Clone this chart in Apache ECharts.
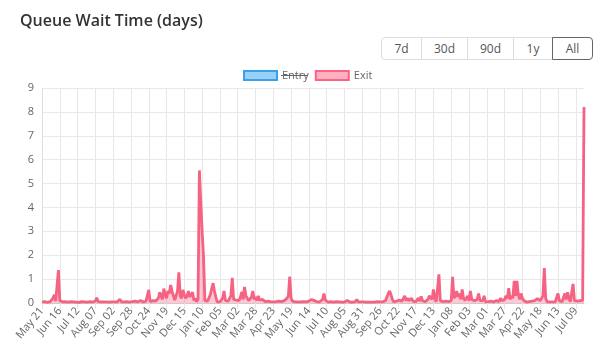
<!DOCTYPE html>
<html>
<head>
<meta charset="utf-8">
<script src="https://cdn.jsdelivr.net/npm/echarts@6/dist/echarts.min.js"></script>
<style>
    body { margin: 0; background: #fff; }
    #main { position: absolute; left: 0; top: 0; width: 600px; height: 352px; }
    .btns { position: absolute; left: 381px; top: 37px; display: flex; z-index: 2; font-family: 'Open Sans', sans-serif; }
    .btns div { height: 21px; line-height: 21px; text-align: center; font-size: 12px; color: #555;
        border: 1px solid #ddd; margin-left: -1px; background: #fff; }
    .btns div:first-child { border-radius: 4px 0 0 4px; margin-left: 0; }
    .btns div:last-child { border-radius: 0 4px 4px 0; border-color: #666; position: relative; }
</style>
</head>
<body>
<div id="main"></div>
<div class="btns">
    <div style="width:39px">7d</div>
    <div style="width:45px">30d</div>
    <div style="width:45px">90d</div>
    <div style="width:38px">1y</div>
    <div style="width:39px">All</div>
</div>
<script>
var startDate = new Date(2019, 4, 21);
var stepDays = 2;
var monthNames = ['Jan', 'Feb', 'Mar', 'Apr', 'May', 'Jun', 'Jul', 'Aug', 'Sep', 'Oct', 'Nov', 'Dec'];

// Exit wait time, one value every 2 days
var exitDays = [
    0.05,0.04,0.06,0.05,0.03,0.05,0.06,0.1,0.2,0.35,0.08,0.02,1.38,0.1,0.06,0.05,0.04,0.06,0.05,0.04,
    0.05,0.06,0.12,0.05,0.1,0.04,0.05,0.03,0.05,0.06,0.04,0.05,0.03,0.04,0.05,0.06,0.05,0.04,0.06,0.08,
    0.22,0.06,0.04,0.05,0.03,0.05,0.04,0.05,0.06,0.04,0.03,0.05,0.04,0.05,0.06,0.05,0.08,0.15,0.05,0.04,
    0.05,0.04,0.06,0.05,0.04,0.05,0.06,0.05,0.08,0.12,0.05,0.06,0.1,0.05,0.04,0.06,0.08,0.1,0.55,0.06,
    0.05,0.1,0.05,0.08,0.12,0.2,0.45,0.3,0.15,0.6,0.35,0.2,0.5,0.4,0.75,0.5,0.3,0.12,0.2,0.5,
    1.28,0.3,0.2,0.55,0.35,0.2,0.3,0.5,0.25,0.35,0.45,0.1,0.2,0.05,0.15,5.55,4.2,3.0,1.95,0.1,
    0.05,0.08,0.1,0.35,0.6,0.83,0.5,0.25,0.05,0.08,0.05,0.1,0.2,0.5,0.1,0.05,0.08,0.15,0.3,1.05,
    0.15,0.08,0.12,0.2,0.1,0.25,0.47,0.15,0.67,0.3,0.2,0.1,0.15,0.25,0.5,0.15,0.25,0.1,0.3,0.12,
    0.1,0.15,0.08,0.06,0.05,0.08,0.05,0.06,0.1,0.05,0.04,0.06,0.05,0.08,0.05,0.06,0.05,0.1,0.15,0.2,
    0.3,1.1,0.2,0.08,0.06,0.05,0.04,0.05,0.06,0.05,0.04,0.06,0.05,0.05,0.06,0.08,0.1,0.15,0.2,0.1,
    0.06,0.05,0.04,0.05,0.08,0.15,0.4,0.12,0.05,0.04,0.05,0.06,0.05,0.04,0.05,0.06,0.04,0.05,0.05,0.04,
    0.05,0.04,0.06,0.1,0.05,0.04,0.05,0.04,0.05,0.06,0.15,0.05,0.04,0.05,0.04,0.05,0.06,0.04,0.05,0.04,
    0.05,0.04,0.05,0.04,0.05,0.06,0.04,0.05,0.04,0.05,0.06,0.1,0.25,0.4,0.5,0.35,0.15,0.05,0.1,0.08,
    0.05,0.12,0.2,0.08,0.15,0.3,0.1,0.2,0.1,0.15,0.2,0.08,0.12,0.05,0.1,0.2,0.08,0.28,0.1,0.06,
    0.05,0.08,0.15,0.3,0.35,0.15,0.57,0.2,0.05,0.1,1.2,0.1,0.05,0.06,0.05,0.08,0.05,0.06,0.05,0.1,
    1.1,0.2,0.3,0.5,0.25,0.4,0.15,0.57,0.2,0.1,0.15,0.3,0.1,0.5,0.15,0.2,0.1,0.05,0.15,0.4,
    0.1,0.05,0.1,0.3,0.05,0.04,0.06,0.05,0.08,0.05,0.04,0.06,0.1,0.05,0.06,0.2,0.1,0.05,0.15,0.3,
    0.2,0.62,0.15,0.3,0.2,0.93,0.3,0.93,0.35,0.15,0.4,0.2,0.1,0.05,0.04,0.05,0.06,0.05,0.08,0.12,
    0.1,0.15,0.18,0.15,0.1,0.08,0.3,1.46,0.2,0.05,0.12,0.05,0.04,0.05,0.06,0.05,0.08,0.4,0.1,0.05,
    0.05,0.1,0.4,0.15,0.45,0.2,0.05,0.1,0.8,0.1,0.05,0.08,0.05,0.1,0.08,0.1,8.2
];
// Entry is hidden in the reference, only its legend item shows
var entryDays = [];

var yTicks = [0, 9, 1];

var dates = [];
for (var i = 0; i < exitDays.length; i++) {
    var d = new Date(startDate.getTime());
    d.setDate(d.getDate() + i * stepDays);
    var dd = d.getDate();
    dates.push(monthNames[d.getMonth()] + ' ' + (dd < 10 ? '0' + dd : dd));
}

var myChart = echarts.init(document.getElementById('main'));
var font = 'Open Sans';
option = {
    animation: false,
    title: {
        text: 'Queue Wait Time (days)',
        left: 15,
        top: 8,
        textStyle: { fontFamily: font, fontSize: 16, fontWeight: 600, color: '#333' }
    },
    legend: {
        top: 70,
        left: 243,
        padding: 0,
        icon: 'rect',
        itemWidth: 33,
        itemHeight: 9,
        itemGap: 6,
        textStyle: { fontFamily: font, fontSize: 11, color: '#666' },
        data: [
            { name: 'Entry', itemStyle: { color: 'rgba(54,162,235,0.5)', borderColor: 'rgb(54,162,235)', borderWidth: 2 } },
            { name: 'Exit', itemStyle: { color: 'rgba(255,99,132,0.5)', borderColor: 'rgb(255,99,132)', borderWidth: 2 } }
        ]
    },
    grid: { left: 42, right: 16, top: 88, bottom: 49 },
    xAxis: {
        type: 'category',
        boundaryGap: false,
        data: dates,
        axisLine: { lineStyle: { color: '#ccc' } },
        axisTick: { interval: 12, length: 6, lineStyle: { color: '#e5e5e5' } },
        axisLabel: { interval: 12, rotate: 50, margin: 6, fontFamily: font, fontSize: 11, color: '#666' },
        splitLine: { show: true, interval: 12, lineStyle: { color: '#e8e8e8' } }
    },
    yAxis: {
        type: 'value',
        min: yTicks[0],
        max: yTicks[1],
        interval: yTicks[2],
        axisLine: { show: true, lineStyle: { color: '#ddd' } },
        axisTick: { show: false },
        axisLabel: { margin: 8, fontFamily: font, fontSize: 11, color: '#666' },
        splitLine: { lineStyle: { color: '#e8e8e8' } }
    },
    graphic: [{
        type: 'line',
        shape: { x1: 281, y1: 75.5, x2: 308, y2: 75.5 },
        style: { stroke: '#666', lineWidth: 1 }
    }],
    series: [
        {
            name: 'Entry',
            type: 'line',
            data: entryDays,
            itemStyle: { color: 'rgba(54,162,235,0.5)' }
        },
        {
            name: 'Exit',
            type: 'line',
            data: exitDays,
            showSymbol: false,
            itemStyle: { color: 'rgb(255,99,132)' },
            lineStyle: { color: 'rgb(245,98,130)', width: 2.8 },
            areaStyle: { color: 'rgba(255,99,132,0.5)' }
        }
    ]
};

if (option && typeof option === "object") {
    myChart.setOption(option, true);
}
</script>
</body>
</html>
